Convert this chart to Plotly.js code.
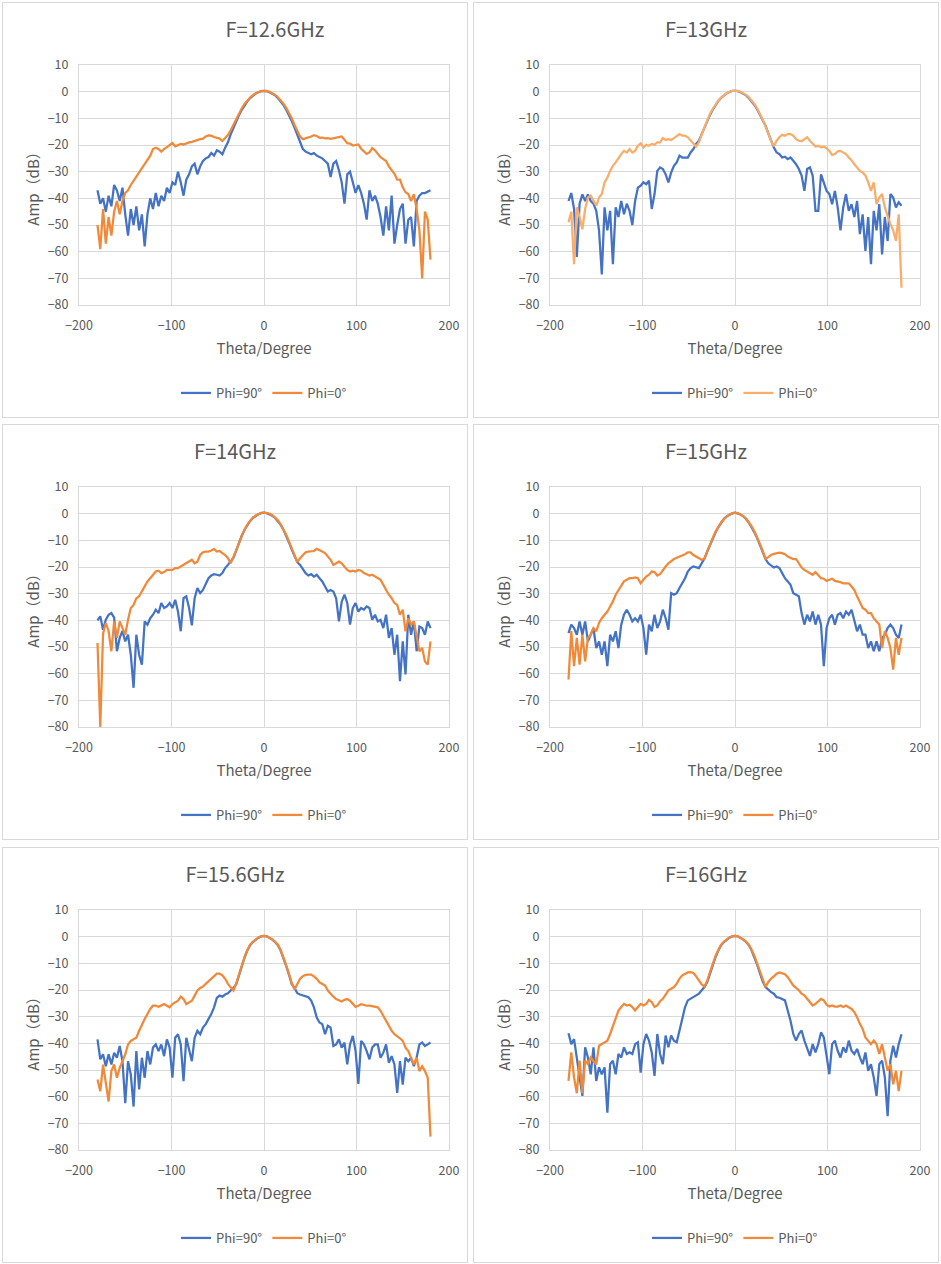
<!DOCTYPE html>
<html>
<head>
<meta charset="utf-8">
<script src="https://cdn.plot.ly/plotly-3.0.1.min.js"></script>
<style>
  body { margin: 0; background: #fff; width: 941px; height: 1264px; position: relative; overflow: hidden; }
  .panel { position: absolute; width: 466px; height: 416px; box-sizing: border-box; border: 1px solid #d9d9d9; }
</style>
</head>
<body>
<div id="p1" class="panel" style="left:2px;top:2px"></div>
<div id="p2" class="panel" style="left:473px;top:2px"></div>
<div id="p3" class="panel" style="left:2px;top:424px"></div>
<div id="p4" class="panel" style="left:473px;top:424px"></div>
<div id="p5" class="panel" style="left:2px;top:847px"></div>
<div id="p6" class="panel" style="left:473px;top:847px"></div>
<script>
/* global Plotly */
const theta = [
  -180, -177, -174, -171, -168, -165, -162, -159, -156, -153,
  -150, -147, -144, -141, -138, -135, -132, -129, -126, -123,
  -120, -117, -114, -111, -108, -105, -102, -99, -96, -93,
  -90, -87, -84, -81, -78, -75, -72, -69, -66, -63,
  -60, -57, -54, -51, -48, -45, -42, -39, -36, -33,
  -30, -27, -24, -21, -18, -15, -12, -9, -6, -3,
  0, 3, 6, 9, 12, 15, 18, 21, 24, 27,
  30, 33, 36, 39, 42, 45, 48, 51, 54, 57,
  60, 63, 66, 69, 72, 75, 78, 81, 84, 87,
  90, 93, 96, 99, 102, 105, 108, 111, 114, 117,
  120, 123, 126, 129, 132, 135, 138, 141, 144, 147,
  150, 153, 156, 159, 162, 165, 168, 171, 174, 177,
  180,
];

// F=12.6GHz
const f126Phi90 = [
  -37, -42, -40, -45, -39, -43, -35, -37, -41, -36,
  -46, -54, -44, -50, -43, -52, -46, -58, -46, -40,
  -44, -38, -43, -39, -41, -36, -38, -34, -35, -30,
  -34, -39, -33, -31, -28, -27, -31, -28, -26, -25,
  -24.5, -23, -24, -22, -22.5, -23.5, -21, -19, -16, -13.5,
  -11, -8.8, -6.8, -5, -3.6, -2.4, -1.4, -0.7, -0.2, 0.2,
  0.3, 0.2, -0.2, -0.7, -1.4, -2.4, -3.6, -5, -6.8, -8.8,
  -11, -13.5, -16, -19, -21.5, -22.5, -23, -23.5, -23, -24,
  -24.5, -25, -26, -27, -32, -27, -26, -29.5, -34, -42,
  -31, -30, -34, -38, -35, -38, -42, -48, -37, -41,
  -39, -42, -47, -54, -43, -52, -39, -57, -50, -44,
  -42, -57, -48, -47, -58, -41, -39, -38, -38, -37.5,
  -37,
];
const f126Phi0 = [
  -50, -59, -44, -57, -47, -54, -45, -41, -46, -41,
  -38, -37, -35, -33.5, -32, -30, -28.5, -27, -25.5, -24,
  -21.5, -21, -21.5, -22.5, -21.5, -20.8, -20, -19.3, -20.5, -20,
  -19.6, -19.8, -19.3, -19, -18.8, -18.4, -18, -17.8, -17.6, -16.8,
  -16.4, -16.5, -17, -17.2, -17.6, -18.5, -17.5, -16.3, -14.5, -12.3,
  -10, -8, -6.2, -4.6, -3.3, -2.2, -1.3, -0.6, -0.1, 0.2,
  0.3, 0.3, 0, -0.5, -1.2, -2.1, -3.2, -4.5, -6.1, -8,
  -10, -12.5, -15, -16.8, -17.8, -17.5, -17, -16.8, -16.3, -16.6,
  -17.3, -17.2, -17.5, -17.4, -17.7, -17.5, -17.3, -17, -16.8, -18,
  -19.3, -19.5, -20.2, -20, -19.8, -21.4, -22.5, -23.3, -22.8, -21.2,
  -22, -23.5, -24.6, -25.3, -26, -28, -29.6, -30.8, -33, -33,
  -35.9, -37.7, -38.4, -41, -38.5, -44, -52, -70, -45, -48,
  -63,
];

// F=13GHz
const f13Phi90 = [
  -41, -38, -44, -62, -42, -38.5, -41, -38.5, -41, -42,
  -44.7, -52, -68.5, -43.4, -52, -44.7, -64.7, -43.4, -47, -41,
  -46, -42, -44.7, -50, -41, -36, -35.3, -34, -34.7, -33.4,
  -44, -38.4, -29.7, -28.4, -29, -31, -34, -30.3, -27.8, -26.5,
  -24, -24.7, -24.7, -24.7, -22.8, -21.5, -19.6, -18.4, -15.9, -13.4,
  -11, -8.7, -6.7, -4.9, -3.5, -2.3, -1.3, -0.6, -0.1, 0.3,
  0.3, 0.2, -0.2, -0.7, -1.4, -2.4, -3.6, -5, -6.7, -8.6,
  -10.8, -12.8, -15.6, -18.4, -20.9, -22.8, -23.4, -24.7, -24.4, -25.3,
  -24.7, -25.9, -27.2, -29, -31.5, -37.2, -29, -28.4, -31.5, -44.7,
  -44.7, -31, -34, -37.2, -38.4, -42.2, -37.2, -43.4, -52, -43.4,
  -38.4, -44.7, -42.2, -47, -41, -53.4, -46, -59.7, -47, -64.7,
  -44.7, -52, -42.2, -61, -47, -56, -38.4, -39.7, -43.4, -41.5,
  -42.8,
];
const f13Phi0 = [
  -49, -45, -64.7, -43.4, -47, -51.6, -44, -39.7, -39, -41,
  -42.8, -39.7, -38.4, -34, -32.2, -29.7, -27.8, -26.5, -24.7, -23.4,
  -22.2, -22.8, -21.5, -22.8, -22.2, -20.3, -19.4, -20.9, -19.9, -20.3,
  -19.6, -19.9, -19, -19, -17.4, -18.1, -17.8, -18.1, -17.4, -16.5,
  -15.9, -16.5, -16.5, -17.1, -18.1, -19.4, -20.6, -19, -15.9, -13.1,
  -10.5, -8.3, -6.4, -4.7, -3.4, -2.2, -1.3, -0.6, -0.1, 0.3,
  0.3, 0.3, 0, -0.5, -1.2, -2.1, -3.2, -4.6, -6.3, -8.3,
  -10.5, -13, -15.9, -18.5, -20.5, -18.4, -17.1, -16.2, -16.5, -15.9,
  -15.9, -16.5, -17.8, -18.4, -18.6, -17.8, -17.1, -18.4, -19.6, -20.6,
  -20.3, -20.9, -20.6, -21.2, -22.2, -23.7, -23.4, -22.4, -22.2, -22.8,
  -23.4, -24.7, -25.7, -27.2, -28.4, -29.7, -30.3, -31.5, -34, -37.2,
  -34, -42.2, -39.7, -38.4, -43.4, -47, -49.7, -52, -56, -46,
  -73.5,
];

// F=14GHz
const f14Phi90 = [
  -40, -38.5, -43.5, -39.8, -37.9, -37.3, -39, -51.6, -46.6, -44,
  -47.9, -45.4, -52.9, -65.3, -45.4, -52.9, -56.6, -40.4, -41.6, -39.2,
  -37.9, -36, -37.3, -33.5, -35.4, -34.8, -33.5, -35.4, -32.3, -36.7,
  -44.1, -31.7, -31, -35.4, -41.9, -31.7, -27.9, -29.8, -28.6, -26.1,
  -24.2, -23.2, -22.7, -22.9, -23.2, -22.3, -20.4, -19.2, -18, -16.5,
  -13.8, -10.8, -8.2, -6, -4.2, -2.7, -1.6, -0.8, -0.2, 0.2,
  0.4, 0.2, -0.2, -0.8, -1.6, -2.7, -4.2, -6, -8.2, -10.8,
  -13.5, -16.2, -18.2, -19.2, -20.7, -22.3, -23.2, -22.7, -23.6, -22.9,
  -24.2, -25.4, -27.3, -29.2, -28.6, -29.2, -31.7, -40.4, -33, -30.4,
  -33.5, -41.6, -35.4, -33.5, -36.7, -35.4, -36, -34.8, -35.4, -39.8,
  -37.9, -40.4, -39.8, -42.9, -37.9, -46.6, -42.9, -52.9, -45.4, -62.8,
  -47.9, -60.3, -37.9, -45.4, -40.4, -51.6, -42.3, -42.9, -45.4, -40.4,
  -42.9,
];
const f14Phi0 = [
  -48.5, -80, -45, -41, -44, -51.6, -40.4, -46.6, -40.4, -42.9,
  -45.4, -39.8, -35.4, -34.2, -31.7, -31, -29.2, -27.3, -25.4, -24.2,
  -22.9, -21.7, -21.4, -22.3, -21.9, -21.1, -21.1, -21.1, -20.4, -20.4,
  -19.8, -19.2, -18.6, -17.7, -17.3, -18.6, -18, -15.5, -14.5, -14.2,
  -14.2, -13.8, -13.2, -14.2, -14, -14.8, -15.5, -16.7, -18.6, -16.2,
  -13.5, -10.6, -8, -5.9, -4.1, -2.6, -1.5, -0.7, -0.1, 0.3,
  0.4, 0.3, 0, -0.6, -1.4, -2.5, -4, -5.8, -7.9, -10.4,
  -13, -15.8, -18.2, -16.7, -15.5, -14.5, -14.2, -14.2, -14, -13.2,
  -13.6, -14.2, -14.8, -16.1, -17.3, -19.2, -18.6, -18, -18.6, -19.8,
  -21.1, -21.7, -21.4, -21.7, -21.1, -21.4, -22.3, -22.7, -23.2, -22.9,
  -23.6, -24, -24.8, -26.7, -28.6, -30.4, -31.7, -33.5, -34.2, -37.9,
  -36, -44.1, -39.2, -41.6, -40.4, -46.6, -51.6, -50.4, -55.4, -56.6,
  -47.9,
];

// F=15GHz
const f15Phi90 = [
  -44.8, -41.6, -42.9, -45.4, -40.4, -45.4, -40.4, -47.9, -45.4, -42.9,
  -50.4, -47.9, -52.9, -47.9, -57.2, -45.4, -47.9, -44.1, -50.4, -41.6,
  -37.9, -36, -37.9, -40.4, -39.2, -40.4, -37.9, -42.9, -52.9, -41.6,
  -44.1, -37.9, -42.9, -40.4, -36, -39.2, -43.5, -29.8, -30.4, -29.8,
  -27.9, -26.1, -24.2, -21.7, -20.4, -19.8, -20.2, -20.4, -18.6, -16.8,
  -14.2, -11.7, -9.2, -7, -5, -3.4, -2, -1, -0.3, 0.1,
  0.4, 0.1, -0.3, -1, -2, -3.4, -5, -7, -9.2, -11.7,
  -14.2, -17, -18.6, -19.5, -20.2, -19.8, -20.4, -22.3, -24.2, -25.4,
  -26.7, -29.8, -30.4, -31, -37.3, -41.6, -37.9, -40.4, -36.7, -41.6,
  -37.9, -41.6, -57.2, -42.9, -39.2, -37.9, -41.6, -37.9, -37.3, -39.2,
  -36.7, -37.9, -36, -40.4, -44.1, -41.6, -45.4, -45.4, -50.4, -47.9,
  -51.6, -47.9, -51.6, -46.6, -45.4, -42.9, -41.6, -42.9, -45.4, -46.6,
  -41.6,
];
const f15Phi0 = [
  -62.2, -44, -57.2, -46.6, -56.6, -45.4, -55.4, -46.6, -45.4, -42.9,
  -44.1, -41, -39.2, -37.9, -36.7, -34.8, -32.9, -30.4, -28.6, -26.7,
  -25.4, -24.8, -24.2, -24.2, -23.9, -24.2, -26.1, -24.8, -23.6, -22.9,
  -21.7, -21.9, -23.2, -22.7, -21.1, -19.8, -18.6, -17.7, -17, -16.5,
  -16.1, -15.5, -15.2, -14.5, -14.5, -15.5, -16.1, -16.5, -17.3, -16.9,
  -14, -11.5, -9, -6.8, -4.9, -3.3, -2, -1, -0.3, 0.1,
  0.4, 0.2, -0.2, -0.9, -1.9, -3.2, -4.8, -6.7, -8.9, -11.4,
  -14, -16.9, -16.3, -15.5, -15.1, -14.8, -14.6, -14.8, -15.2, -16.1,
  -16.7, -17, -17, -18.6, -20.2, -21.1, -21.7, -22.3, -22.9, -21.9,
  -23.2, -24.2, -24.4, -25.2, -24.8, -24.4, -25.2, -25.4, -25.7, -26.1,
  -26.1, -26.1, -27.3, -28.6, -31, -33.5, -35.4, -36, -37.3, -37.3,
  -39.2, -40.4, -41.6, -50.4, -44.1, -46.6, -50.4, -58.5, -46.6, -52.9,
  -46.6,
];

// F=15.6GHz
const f156Phi90 = [
  -38.5, -46, -44.1, -48.6, -44.1, -47.9, -43.5, -45.4, -41, -46.7,
  -62.4, -46.7, -51.7, -63.7, -42.9, -57.3, -45.4, -52.9, -42.9, -47.9,
  -41.6, -40.4, -42.9, -40.4, -44.8, -38.5, -41.6, -52.9, -37.9, -36.6,
  -40.4, -54.2, -37.9, -42.9, -46.7, -37.9, -35.3, -36.6, -34.1, -32.8,
  -30.9, -29, -26.5, -23, -22.1, -22.5, -21.7, -21.2, -20.2, -19.2,
  -17.8, -14.2, -11, -7.8, -5.2, -3.2, -2, -1.1, -0.4, 0.1,
  0.3, 0.1, -0.4, -1.1, -2, -3.2, -5.2, -7.8, -11, -14.2,
  -17.8, -19.2, -21.2, -21.7, -22.1, -22.5, -22.7, -24, -26.5, -30.3,
  -32.2, -32.8, -36.6, -33.4, -34.1, -41, -40.4, -38.5, -41.6, -39.7,
  -47.9, -40.4, -37.2, -42.9, -55.2, -39.1, -40.4, -42.9, -46, -41.6,
  -40.4, -40.4, -45.4, -43.5, -40.4, -47.3, -44.8, -47.9, -58.6, -46.7,
  -55.5, -45.4, -46.7, -45.4, -48.6, -45.4, -40.4, -39.7, -41, -40.4,
  -39.7,
];
const f156Phi0 = [
  -53.6, -58, -48, -55.5, -61.8, -50.4, -47.9, -52.9, -49.2, -46.7,
  -44.1, -40.4, -39.1, -38.5, -37.9, -35.3, -32.8, -30.9, -29, -27.1,
  -25.9, -25.9, -26.3, -25.9, -25.3, -25.9, -26.5, -25.3, -24.6, -24,
  -22.5, -23.4, -25.3, -24.6, -24, -22.1, -20.2, -19.2, -18.7, -17.7,
  -16.7, -15.8, -14.9, -13.9, -13.9, -14.5, -15.8, -17.7, -19, -20.2,
  -17.5, -14, -10.8, -7.6, -5, -3, -1.9, -1, -0.3, 0.1,
  0.3, 0.1, -0.3, -1, -1.9, -3, -5, -7.6, -10.8, -14,
  -17.5, -19.8, -17.7, -15.8, -14.8, -14.3, -14.2, -14.2, -14.9, -15.8,
  -17.1, -17.7, -18.3, -20.2, -21.5, -22.5, -23.4, -24, -24.3, -23.7,
  -23.4, -24, -25, -26.3, -25.9, -25.3, -25.6, -25.9, -25.9, -26.1,
  -26.3, -26.5, -27.8, -29.7, -31.6, -33.4, -35.3, -36.6, -37.2, -38.1,
  -39.1, -41.6, -42.9, -45.4, -47.9, -45.4, -50.4, -48.6, -50.4, -52.9,
  -75,
];

// F=16GHz
const f16Phi90 = [
  -36.2, -40.3, -38.4, -45.3, -52.8, -59.7, -41.5, -45.3, -51.6, -41.5,
  -54.1, -49, -51.6, -49, -66, -47.8, -46.5, -51.6, -44, -45.3,
  -41.5, -44, -43.4, -44, -40.3, -39.6, -51, -40.3, -36.5, -39,
  -43.4, -52.2, -36.5, -44, -47.8, -37.1, -41.5, -37.1, -39, -39.6,
  -35.2, -30.2, -26.4, -23.9, -23.3, -22.9, -22, -21.4, -20.1, -18.9,
  -17, -13.8, -10.6, -7.6, -5.2, -3.2, -2, -1.1, -0.4, 0.1,
  0.3, 0.1, -0.4, -1.1, -2, -3.2, -5.2, -7.6, -10.6, -13.8,
  -16.8, -18.9, -19.9, -20.8, -21.4, -22.7, -22.9, -23.3, -23.9, -27.7,
  -31.5, -36.5, -39, -36.5, -35.2, -39, -41.5, -44.7, -40.3, -43.4,
  -40.3, -35.9, -37.8, -45.3, -51.6, -40.3, -39, -42.8, -45.3, -41.5,
  -43.4, -39, -42.8, -44, -42.1, -45.3, -47.8, -43.4, -50.3, -47.8,
  -52.8, -59.7, -47.8, -46.5, -52.8, -67.3, -46.5, -40.9, -45.3, -40.3,
  -36.6,
];
const f16Phi0 = [
  -54.1, -43.4, -52.8, -58.7, -46.5, -58.7, -46.5, -47.8, -45.3, -46.5,
  -48, -40.9, -40.3, -39.6, -39, -36.5, -33.4, -30.2, -27.7, -26.4,
  -25.2, -25.8, -25.5, -26.4, -27.7, -26.4, -25.2, -25.8, -25.2, -23.7,
  -24.5, -26.4, -25.8, -24.2, -23.3, -21.7, -20.1, -19.5, -18.9, -17.6,
  -15.7, -14.5, -13.9, -13.4, -13.3, -13.6, -14.9, -16.4, -17.9, -18.7,
  -16.5, -13.2, -10.1, -7.2, -5, -3, -1.9, -1, -0.3, 0.1,
  0.3, 0.1, -0.3, -1, -1.9, -3, -5, -7.2, -10.1, -13.2,
  -16.5, -18.9, -17, -15.7, -14.9, -13.9, -13.4, -13.9, -14.1, -15.2,
  -16.7, -18.3, -19.2, -20.1, -21.4, -22, -23.3, -24.5, -25.8, -25.2,
  -24.2, -23.3, -23.9, -25.5, -26.2, -25.8, -26.2, -26.2, -25.8, -26.4,
  -25.8, -26.4, -27.1, -28.3, -30.2, -32.7, -34.6, -37.8, -39, -40.3,
  -39, -40.3, -44, -40.3, -45.3, -50.3, -47.8, -55.4, -50.3, -57.9,
  -50.3,
];

const FONT = '"Noto Sans CJK SC", "Microsoft YaHei", sans-serif';
const TEXT_COLOR = "#595959";
const GRID_COLOR = "#d9d9d9";
const BLUE = "#4472C4";
const ORANGE = "#F08A3A";

const panels = [
  { id: "p1", title: "F=12.6GHz", titleX: 0.586, phi90: f126Phi90, phi0: f126Phi0, orange: ORANGE },
  { id: "p2", title: "F=13GHz", titleX: 0.5, phi90: f13Phi90, phi0: f13Phi0, orange: "#F8AD6A" },
  { id: "p3", title: "F=14GHz", titleX: 0.5, phi90: f14Phi90, phi0: f14Phi0, orange: ORANGE },
  { id: "p4", title: "F=15GHz", titleX: 0.5, phi90: f15Phi90, phi0: f15Phi0, orange: ORANGE },
  { id: "p5", title: "F=15.6GHz", titleX: 0.5, phi90: f156Phi90, phi0: f156Phi0, orange: ORANGE },
  { id: "p6", title: "F=16GHz", titleX: 0.5, phi90: f16Phi90, phi0: f16Phi0, orange: ORANGE },
];

function getTrace(values, name, color) {
  return {
    x: theta,
    y: values,
    type: "scatter",
    mode: "lines",
    name,
    line: { color, width: 2.25 },
    hoverinfo: "skip",
  };
}

const axisBase = {
  showgrid: true,
  gridcolor: GRID_COLOR,
  gridwidth: 1,
  zeroline: false,
  showline: true,
  linecolor: GRID_COLOR,
  mirror: true,
  ticks: "",
  tickfont: { size: 12.5, color: TEXT_COLOR },
  fixedrange: true,
};

function getLayout(p) {
  return {
    width: 464,
    height: 414,
    margin: { l: 76, r: 18, t: 62, b: 112, pad: 0 },
    paper_bgcolor: "#ffffff",
    plot_bgcolor: "#ffffff",
    font: { family: FONT, size: 12, color: TEXT_COLOR },
    title: {
      text: p.title,
      xref: "container",
      x: p.titleX,
      xanchor: "center",
      yref: "container",
      y: 0.935,
      yanchor: "middle",
      font: { size: 20, color: TEXT_COLOR },
    },
    xaxis: {
      ...axisBase,
      range: [-200, 200],
      tick0: 0,
      dtick: 100,
      ticklabelstandoff: 9,
      title: { text: "Theta/Degree", font: { size: 15, color: TEXT_COLOR }, standoff: 10 },
    },
    yaxis: {
      ...axisBase,
      range: [-80, 10],
      tick0: 0,
      dtick: 10,
      ticklabelstandoff: 7,
      title: { text: "Amp（dB）", font: { size: 15, color: TEXT_COLOR }, standoff: 4 },
    },
    showlegend: true,
    legend: {
      orientation: "h",
      x: 0.5,
      xanchor: "center",
      yref: "container",
      y: 0.058,
      yanchor: "middle",
      font: { size: 13, color: TEXT_COLOR },
      bgcolor: "rgba(0,0,0,0)",
    },
    hovermode: false,
  };
}

panels.forEach((p) => {
  Plotly.newPlot(
    document.getElementById(p.id),
    [getTrace(p.phi90, "Phi=90°", BLUE), getTrace(p.phi0, "Phi=0°", p.orange)],
    getLayout(p),
    { staticPlot: true, displayModeBar: false },
  );
});
</script>
</body>
</html>
